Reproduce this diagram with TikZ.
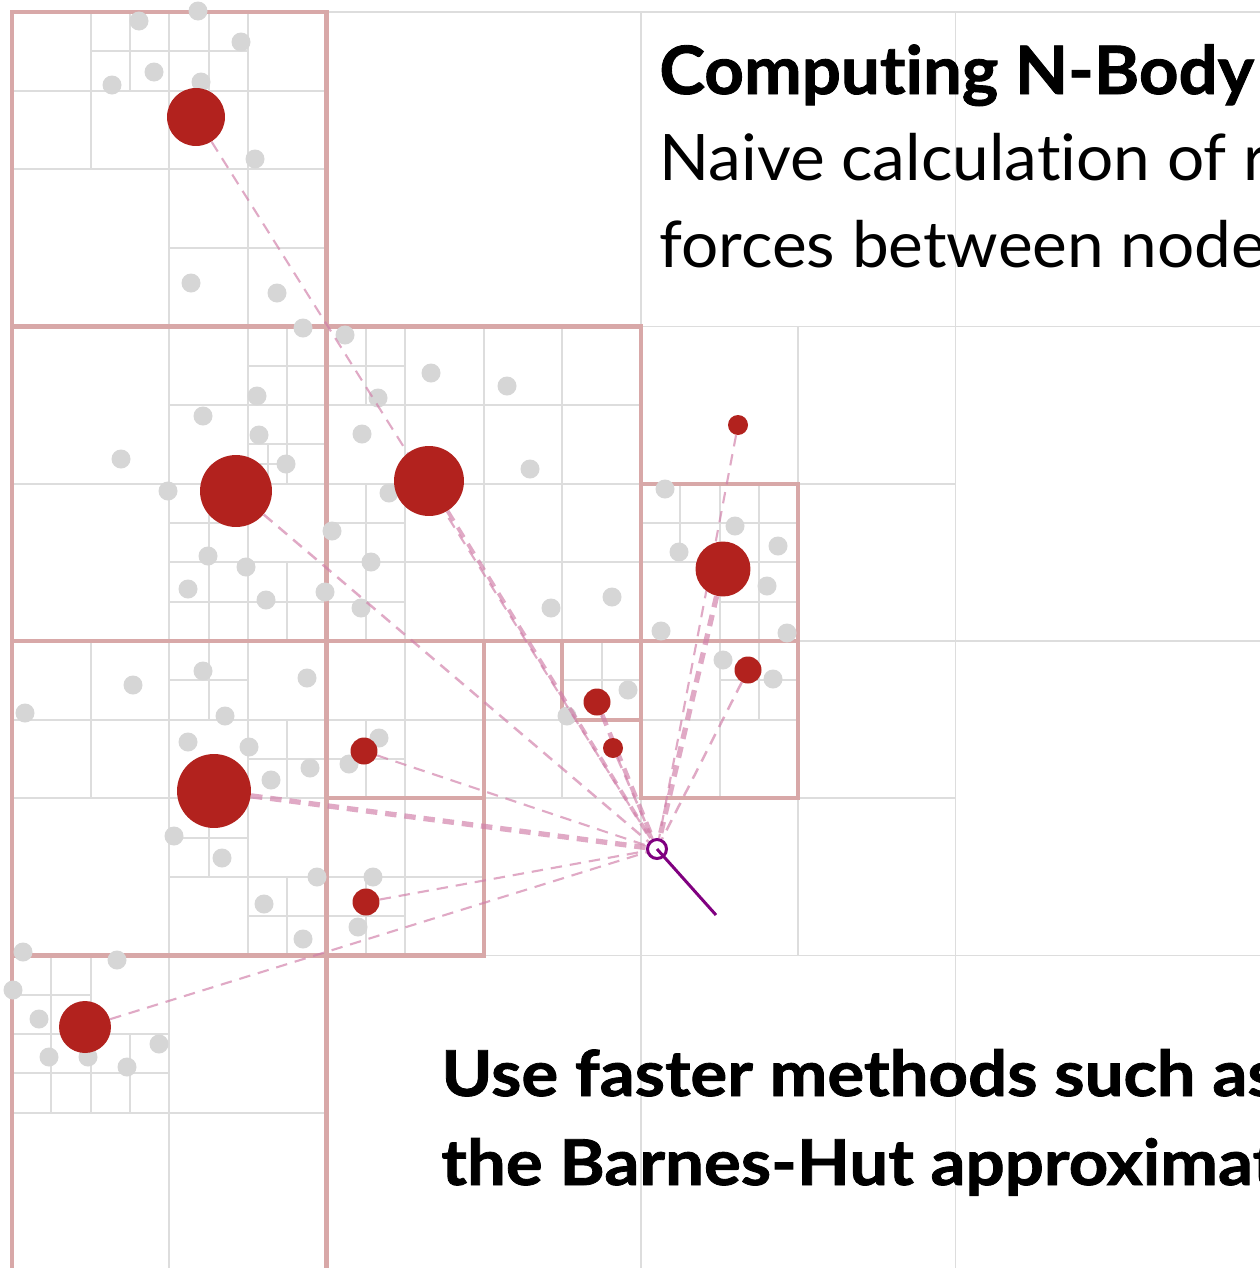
\documentclass[tikz,border=0pt]{standalone}
\usepackage{fontspec}
\newfontfamily\latot[FakeStretch=1.033, Ligatures=NoCommon, BoldFeatures={FakeBold=1.3}]{Lato}
\newfontfamily\latow[FakeStretch=1.025, Ligatures=NoCommon]{Lato}
\newfontfamily\latob[FakeStretch=1.09, Ligatures=NoCommon, BoldFeatures={FakeBold=1.3}]{Lato}
\pgfdeclarelayer{bg}
\pgfdeclarelayer{lines}
\pgfsetlayers{bg,lines,main}
\definecolor{gridgray}{RGB}{221,221,221}
\definecolor{boxpink}{RGB}{216,168,168}
\definecolor{dotgray}{RGB}{214,214,214}
\definecolor{cmred}{RGB}{178,34,30}
\definecolor{linkpink}{RGB}{208,125,168}
\definecolor{tgtpurple}{RGB}{128,0,128}
\tikzset{
  gridline/.style={draw=gridgray, line width=1.1pt},
  pinkbox/.style={draw=boxpink, line width=2.3pt},
  bodydot/.style={fill=dotgray},
  cmdot/.style={circle, fill=cmred, draw=none, inner sep=0pt, minimum size=#1*0.04cm},
  link/.style={draw=linkpink, draw opacity=0.66, line width=#1, dash pattern=on 6.5pt off 4.5pt},
  target/.style={circle, draw=tgtpurple, fill=white, line width=1.7pt, inner sep=0pt, minimum size=0.38cm},
  velocity/.style={draw=tgtpurple, line width=1.7pt},
  label/.style={anchor=base west, inner sep=0pt, text=black}
}
\newcommand\qcross[3]{\draw[gridline] ({#1+#3/2},#2) -- ({#1+#3/2},{#2+#3}) (#1,{#2+#3/2}) -- ({#1+#3},{#2+#3/2});}
\begin{document}
\begin{tikzpicture}[x=0.02cm,y=-0.02cm]
\useasboundingbox (0,0) rectangle (1259,1268);
\begin{pgfonlayer}{bg}
\fill[white] (0,0) rectangle (1259,1268);
\draw[gridline] (12,12) rectangle (1270,1270);
% quadtree subdivisions
\foreach \x/\y/\s in {12/12/1258,
  12/12/629, 641/12/629, 12/641/629, 641/641/629,
  12/12/314.5, 12/326.5/314.5, 326.5/326.5/314.5, 641/326.5/314.5, 12/641/314.5, 326.5/641/314.5, 12/955.5/314.5, 641/641/314.5,
  12/12/157.25, 169.25/12/157.25, 169.25/169.25/157.25, 169.25/326.5/157.25, 169.25/483.75/157.25, 326.5/326.5/157.25, 483.75/326.5/157.25, 326.5/483.75/157.25, 483.75/483.75/157.25, 641/483.75/157.25, 12/641/157.25, 169.25/641/157.25, 169.25/798.25/157.25, 326.5/641/157.25, 483.75/641/157.25, 326.5/798.25/157.25, 12/955.5/157.25, 641/641/157.25,
  90.625/12/78.625, 169.25/12/78.625, 247.875/326.5/78.625, 247.875/405.125/78.625, 169.25/483.75/78.625, 169.25/562.375/78.625, 247.875/562.375/78.625, 326.5/326.5/78.625, 326.5/483.75/78.625, 326.5/562.375/78.625, 641/483.75/78.625, 719.625/483.75/78.625, 719.625/562.375/78.625, 169.25/641/78.625, 247.875/719.625/78.625, 169.25/798.25/78.625, 247.875/876.875/78.625, 326.5/719.625/78.625, 562.375/641/78.625, 326.5/876.875/78.625, 12/955.5/78.625, 12/1034.125/78.625, 90.625/1034.125/78.625, 719.625/641/78.625,
  247.875/444.4375/39.3125}
  {\qcross{\x}{\y}{\s}}
% Barnes-Hut cells used
\foreach \x/\y/\s in {12/12/314.5, 12/326.5/314.5, 326.5/326.5/314.5, 12/641/314.5, 12/955.5/314.5, 326.5/641/157.25, 326.5/798.25/157.25, 562.375/641/78.625, 641/483.75/157.25, 641/641/157.25}
  {\draw[pinkbox] (\x,\y) rectangle ({\x+\s},{\y+\s});}
% bodies
\foreach \x/\y in {139/21, 198/11, 241/42, 154/72, 112/85, 201/82, 255/159, 191/283, 277/293, 303/328,
  345/335, 431/373, 507/386, 378/398, 362/434, 530/469, 389/493, 332/531, 371/562, 325/592, 361/608, 551/608, 612/597,
  257/396, 203/416, 259/435, 121/459, 286/464, 168/491, 208/556, 246/567, 188/589, 266/600,
  203/671, 133/685, 307/678, 25/713, 225/716, 188/742, 249/747, 310/768, 271/780, 174/836, 222/858, 317/877, 264/904, 303/939,
  23/952, 117/960, 13/990, 39/1019, 159/1044, 49/1057, 88/1057, 127/1067,
  379/738, 349/764, 373/877, 358/927, 628/690, 567/716,
  665/489, 735/526, 679/552, 778/546, 767/586, 661/631, 787/633, 723/660, 773/679}
  {\fill[bodydot] (\x,\y) circle[radius=9.5];}
\end{pgfonlayer}
% centres of mass
\node[cmdot=29] (A) at (196,117) {};
\node[cmdot=36] (B) at (236,491) {};
\node[cmdot=35] (C) at (429,481) {};
\node[cmdot=37] (D) at (214,791) {};
\node[cmdot=26] (E) at (85,1027) {};
\node[cmdot=13.5] (F) at (364,751) {};
\node[cmdot=13.5] (G) at (366,902) {};
\node[cmdot=13.5] (H) at (597,702) {};
\node[cmdot=10] (I) at (613,748) {};
\node[cmdot=27.5] (J) at (723,569) {};
\node[cmdot=13.5] (K) at (748,670) {};
\node[cmdot=10] (L) at (738,425) {};
\node[target] (T) at (657,849) {};
\coordinate (V) at (716,915);
\draw[velocity] (T.center) -- (V);
\begin{pgfonlayer}{lines}
\draw[link=1.2pt] (A) -- (T);
\draw[link=1.4pt] (B) -- (T);
\draw[link=2.2pt] (C) -- (T);
\draw[link=3pt] (D) -- (T);
\draw[link=1.2pt] (E) -- (T);
\draw[link=1.2pt] (F) -- (T);
\draw[link=1.2pt] (G) -- (T);
\draw[link=2.6pt] (H) -- (T);
\draw[link=1.4pt] (I) -- (T);
\draw[link=3pt] (J) -- (T);
\draw[link=1.4pt] (K) -- (T);
\draw[link=1.2pt] (L) -- (T);
\end{pgfonlayer}
% texts
\node[label] (title) at (659,94) {\latot\bfseries\fontsize{38}{40}\selectfont Computing N-Body};
\node[label] (desc1) at (659,180) {\latow\fontsize{36.5}{38}\selectfont Naive calculation of r};
\node[label] (desc2) at (659,267) {\latow\fontsize{36.5}{38}\selectfont forces between nodes};
\node[label] (bh1) at (441,1096) {\latob\bfseries\fontsize{36}{40}\selectfont Use faster methods such as};
\node[label] (bh2) at (441,1185) {\latob\bfseries\fontsize{36}{40}\selectfont the Barnes-Hut approximation};
\end{tikzpicture}
\end{document}
